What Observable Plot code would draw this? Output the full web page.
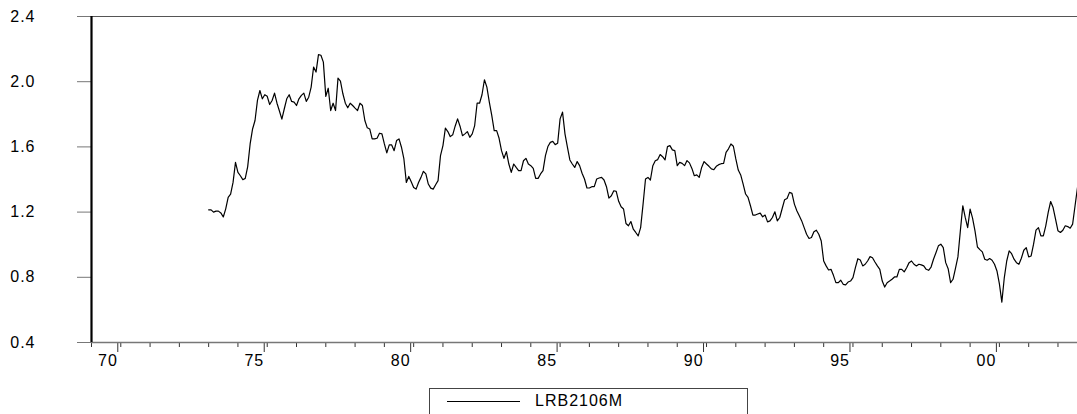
<!DOCTYPE html>
<html>
<head>
<meta charset="utf-8">
<script src="https://cdn.jsdelivr.net/npm/d3@7"></script>
<script src="https://cdn.jsdelivr.net/npm/@observablehq/plot@0.6"></script>
<style>
  html, body { margin: 0; padding: 0; background: #fff; }
  body { position: relative; width: 1077px; height: 414px; overflow: hidden; font-family: "Liberation Sans", Arial, sans-serif; }
  #chart { position: absolute; left: 0; top: 0; }
  #legend { position: absolute; left: 429px; top: 388px; width: 319px; height: 40px; border: 1px solid #444; box-sizing: border-box; }
  #legend .swatch { position: absolute; left: 17px; top: 12px; width: 73px; height: 0; border-top: 1px solid #000; }
  #legend .label { position: absolute; left: 105px; top: 3px; font-size: 16px; letter-spacing: 1px; color: #000; }
</style>
</head>
<body>
<div id="chart"></div>
<div id="legend"><div class="swatch"></div><div class="label"></div></div>
<script>
// Series: LRB2106M, monthly from 1973:01
const seriesName = "LRB2106M";
const startYear = 1973;
const lrb2106m = [
  1.214, 1.214, 1.20, 1.206, 1.206, 1.195, 1.17, 1.22, 1.29, 1.31,
  1.382, 1.505, 1.444, 1.423, 1.399, 1.407, 1.479, 1.618, 1.71, 1.762,
  1.885, 1.946, 1.895, 1.92, 1.91, 1.86, 1.885, 1.93, 1.868, 1.82,
  1.77, 1.834, 1.895, 1.92, 1.879, 1.875, 1.854, 1.895, 1.916, 1.93,
  1.879, 1.905, 1.967, 2.09, 2.059, 2.166, 2.162, 2.12, 1.91, 1.96,
  1.823, 1.868, 1.823, 2.022, 2.004, 1.926, 1.868, 1.84, 1.868, 1.854,
  1.838, 1.823, 1.868, 1.854, 1.762, 1.717, 1.71, 1.649, 1.649, 1.653,
  1.684, 1.68, 1.618, 1.563, 1.612, 1.612, 1.577, 1.639, 1.649,
  1.598, 1.526, 1.382, 1.419, 1.386, 1.351, 1.341, 1.382, 1.413, 1.45,
  1.434, 1.372, 1.347, 1.341, 1.368, 1.393, 1.547, 1.608, 1.715, 1.694,
  1.663, 1.674, 1.727, 1.772, 1.727, 1.669, 1.68, 1.694, 1.659, 1.68,
  1.731, 1.868, 1.868, 1.92, 2.012, 1.967, 1.875, 1.793, 1.70, 1.70,
  1.653, 1.577, 1.53, 1.571, 1.495, 1.444, 1.495, 1.474, 1.454, 1.454,
  1.515, 1.53, 1.495, 1.485, 1.468, 1.407, 1.407, 1.434,
  1.454, 1.546, 1.602, 1.628, 1.634, 1.614, 1.622, 1.772, 1.813, 1.68,
  1.598, 1.52, 1.495, 1.474, 1.51, 1.485, 1.438, 1.403, 1.348, 1.348,
  1.356, 1.356, 1.403, 1.409, 1.413, 1.397, 1.356, 1.286, 1.30, 1.331,
  1.327, 1.266, 1.233, 1.219, 1.13, 1.116, 1.142, 1.095, 1.075, 1.054,
  1.105, 1.249, 1.403, 1.413, 1.397, 1.485, 1.515, 1.522, 1.553, 1.54,
  1.52, 1.602, 1.608, 1.582, 1.577, 1.485, 1.505, 1.499,
  1.485, 1.516, 1.502, 1.468, 1.423, 1.428, 1.413, 1.474, 1.51, 1.495,
  1.481, 1.465, 1.46, 1.481, 1.491, 1.497, 1.499, 1.567, 1.588, 1.618,
  1.604, 1.526, 1.458, 1.428, 1.372, 1.311, 1.29, 1.239, 1.182, 1.182,
  1.188, 1.194, 1.171, 1.182, 1.14, 1.146, 1.167, 1.202, 1.146, 1.167,
  1.222, 1.276, 1.284, 1.321, 1.315, 1.249, 1.208, 1.177, 1.146, 1.105,
  1.064, 1.038, 1.044, 1.079, 1.089, 1.064, 1.023,
  0.9, 0.87, 0.845, 0.849, 0.812, 0.767, 0.767, 0.782, 0.757, 0.754,
  0.771, 0.777, 0.798, 0.859, 0.914, 0.906, 0.87, 0.88, 0.9, 0.927,
  0.92, 0.894, 0.87, 0.849, 0.777, 0.74, 0.767, 0.777, 0.788, 0.802,
  0.802, 0.849, 0.849, 0.833, 0.859, 0.89, 0.9, 0.88, 0.87, 0.88,
  0.876, 0.87, 0.849, 0.843, 0.863, 0.911, 0.951, 0.993, 1.003, 0.982,
  0.89, 0.853, 0.767,
  0.788, 0.855, 0.925, 1.085, 1.239, 1.167, 1.105, 1.218, 1.163, 1.085,
  0.986, 0.97, 0.956, 0.911, 0.905, 0.915, 0.905, 0.88, 0.839, 0.76,
  0.648, 0.797, 0.9, 0.962, 0.945, 0.911, 0.89, 0.88, 0.917, 0.966,
  0.982, 0.925, 0.931, 1.003, 1.089, 1.105, 1.054, 1.054, 1.116, 1.198,
  1.265, 1.228, 1.157, 1.085, 1.075, 1.089, 1.116, 1.111, 1.101, 1.126,
  1.239, 1.351
];
const yTicks = [0.4, 0.8, 1.2, 1.6, 2.0, 2.4];
const majorYears = [1970, 1975, 1980, 1985, 1990, 1995, 2000];
const minorYears = [1969, 1970, 1971, 1972, 1973, 1974, 1975, 1976, 1977, 1978, 1979, 1980, 1981, 1982, 1983, 1984, 1985, 1986, 1987, 1988, 1989, 1990, 1991, 1992, 1993, 1994, 1995, 1996, 1997, 1998, 1999, 2000, 2001, 2002];
const xStart = 1969;

const data = lrb2106m.map((v, i) => ({t: startYear + i / 12, v}));
const xEnd = data[data.length - 1].t;

const chart = Plot.plot({
  width: 1077,
  height: 380,
  marginLeft: 91,
  marginRight: 0,
  marginTop: 16,
  marginBottom: 38,
  style: {fontFamily: "'Liberation Sans', Arial, sans-serif", fontSize: "16px", background: "#fff", overflow: "visible"},
  x: {domain: [xStart, xEnd], label: null},
  y: {domain: [0.4, 2.4], label: null},
  marks: [
    Plot.axisY(yTicks, {tickSize: 14, tickPadding: 42, stroke: "#777", fill: "#000", fontSize: 16, tickFormat: d3.format(".1f"), label: null, letterSpacing: 1}),
    Plot.axisX(minorYears, {tickSize: 5, stroke: "#333", tickFormat: () => "", label: null}),
    Plot.axisX(majorYears, {tickSize: 10, tickPadding: 2, stroke: "#333", fill: "#000", fontSize: 16, textAnchor: "end", dx: -3, tickFormat: d => String(d).slice(-2), label: null}),
    Plot.ruleY([2.4], {stroke: "#555", strokeWidth: 1}),
    Plot.ruleY([0.4], {stroke: "#777", strokeWidth: 1.5}),
    Plot.ruleX([xStart], {stroke: "#000", strokeWidth: 2.2}),
    Plot.line(data, {x: "t", y: "v", stroke: "#000", strokeWidth: 1.2})
  ]
});
chart.querySelectorAll("text").forEach(t => t.setAttribute("letter-spacing", "1"));
document.getElementById("chart").appendChild(chart);
document.querySelector("#legend .label").textContent = seriesName;
</script>
</body>
</html>
